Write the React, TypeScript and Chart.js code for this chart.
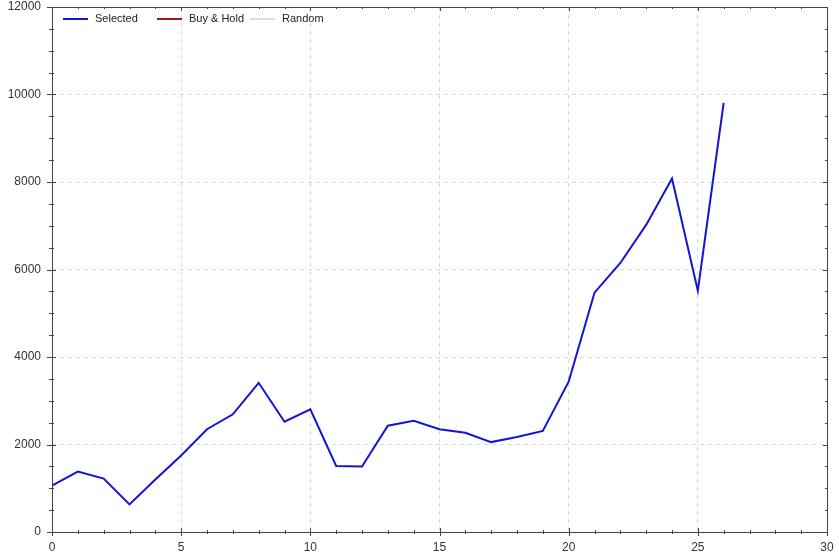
import React, { useEffect, useRef } from "react";
import { Chart, registerables } from "chart.js";

Chart.register(...registerables);

const periods = [0, 1, 2, 3, 4, 5, 6, 7, 8, 9, 10, 11, 12, 13, 14, 15, 16, 17, 18, 19, 20, 21, 22, 23, 24, 25, 26];
const selectedValues = [1060, 1380, 1220, 630, 1200, 1750, 2350, 2690, 3410, 2520, 2805, 1510, 1495, 2430, 2540, 2350, 2270, 2055, 2170, 2310, 3435, 5470, 6150, 7020, 8080, 5515, 9810];
const buyHoldValues: number[] = [];
const randomValues: number[] = [];
const seriesNames = ["Selected", "Buy & Hold", "Random"];
const seriesColors = ["#1414d4", "#a01818", "#dddddd"];

const X_MIN = 0, X_MAX = 30, X_MAJOR = 5, X_MINOR = 1;
const Y_MIN = 0, Y_MAX = 12000, Y_MAJOR = 2000, Y_MINOR = 500;

const framePlugin = {
  id: "frameTicks",
  afterDraw(chart: any) {
    const { ctx, chartArea } = chart;
    const xs = chart.scales.x;
    const ys = chart.scales.y;
    const { left, right, top, bottom } = chartArea;
    ctx.save();
    ctx.strokeStyle = "#444";
    ctx.lineWidth = 1;
    ctx.beginPath();
    ctx.rect(Math.round(left) + 0.5, Math.round(top) + 0.5, Math.round(right - left), Math.round(bottom - top));
    ctx.stroke();
    ctx.beginPath();
    for (let v = X_MIN; v <= X_MAX + 1e-9; v += X_MINOR) {
      const px = Math.round(xs.getPixelForValue(v)) + 0.5;
      const major = Math.abs(v / X_MAJOR - Math.round(v / X_MAJOR)) < 1e-9;
      const up = major ? 4 : 2;
      const down = major ? 4 : 2;
      ctx.moveTo(px, bottom - up);
      ctx.lineTo(px, bottom + down);
      ctx.moveTo(px, top);
      ctx.lineTo(px, top + up);
    }
    for (let v = Y_MIN; v <= Y_MAX + 1e-9; v += Y_MINOR) {
      const py = Math.round(ys.getPixelForValue(v)) + 0.5;
      const major = Math.abs(v / Y_MAJOR - Math.round(v / Y_MAJOR)) < 1e-9;
      const l = major ? 5 : 3;
      const r = major ? 4 : 2;
      ctx.moveTo(left - l, py);
      ctx.lineTo(left + r, py);
      ctx.moveTo(right, py);
      ctx.lineTo(right - r, py);
    }
    ctx.stroke();

    // legend inside plot
    ctx.font = "11px 'Liberation Sans', Arial, sans-serif";
    ctx.textBaseline = "middle";
    ctx.textAlign = "left";
    const ly = top + 12;
    const starts = [left + 11, left + 105, left + 198];
    chart.data.datasets.forEach((ds: any, i: number) => {
      const lx = starts[i];
      ctx.strokeStyle = seriesColors[i];
      ctx.lineWidth = 2;
      ctx.beginPath();
      ctx.moveTo(lx, ly);
      ctx.lineTo(lx + 25, ly);
      ctx.stroke();
      ctx.fillStyle = "#222";
      ctx.fillText(ds.label, lx + 32, ly);
    });
    ctx.restore();
  },
};

export default function App() {
  const ref = useRef<HTMLCanvasElement | null>(null);
  useEffect(() => {
    document.body.style.margin = "0";
    const canvas = ref.current;
    if (!canvas) return;
    const toPoints = (vals: number[]) => vals.map((v, i) => ({ x: periods[i], y: v }));
    const font = { family: "'Liberation Sans', Arial, sans-serif", size: 12 };
    const zeroPad = (s: any) => { s.paddingTop = 0; s.paddingBottom = 0; s.paddingLeft = 0; s.paddingRight = 0; };
    const chart = new Chart(canvas, {
      type: "line",
      data: {
        datasets: [
          { label: seriesNames[0], data: toPoints(selectedValues), borderColor: seriesColors[0], borderWidth: 2, pointRadius: 0, tension: 0, fill: false },
          { label: seriesNames[1], data: toPoints(buyHoldValues), borderColor: seriesColors[1], borderWidth: 2, pointRadius: 0, fill: false },
          { label: seriesNames[2], data: toPoints(randomValues), borderColor: seriesColors[2], borderWidth: 2, pointRadius: 0, fill: false },
        ],
      },
      options: {
        animation: false,
        responsive: false,
        maintainAspectRatio: false,
        layout: { padding: { top: 7, right: 12, left: 0, bottom: 0 } },
        plugins: { legend: { display: false }, tooltip: { enabled: false } },
        scales: {
          x: {
            type: "linear",
            min: X_MIN,
            max: X_MAX,
            border: { display: false, dash: [4, 4] },
            grid: { color: "#dadada", drawTicks: false, lineWidth: 1 },
            ticks: { stepSize: X_MAJOR, padding: 8, color: "#333", font, callback: (v: any) => String(v) },
            afterFit: (s: any) => { s.height = 24; zeroPad(s); },
          },
          y: {
            type: "linear",
            min: Y_MIN,
            max: Y_MAX,
            border: { display: false, dash: [4, 4] },
            grid: { color: "#dadada", drawTicks: false, lineWidth: 1 },
            ticks: { stepSize: Y_MAJOR, padding: 11, color: "#333", font, callback: (v: any) => String(v) },
            afterFit: (s: any) => { s.width = 52; zeroPad(s); },
          },
        },
      } as any,
      plugins: [framePlugin],
    });
    return () => chart.destroy();
  }, []);
  return (
    <div style={{ width: 839, height: 556, background: "#fff" }}>
      <canvas ref={ref} width={839} height={556} style={{ display: "block" }} />
    </div>
  );
}
